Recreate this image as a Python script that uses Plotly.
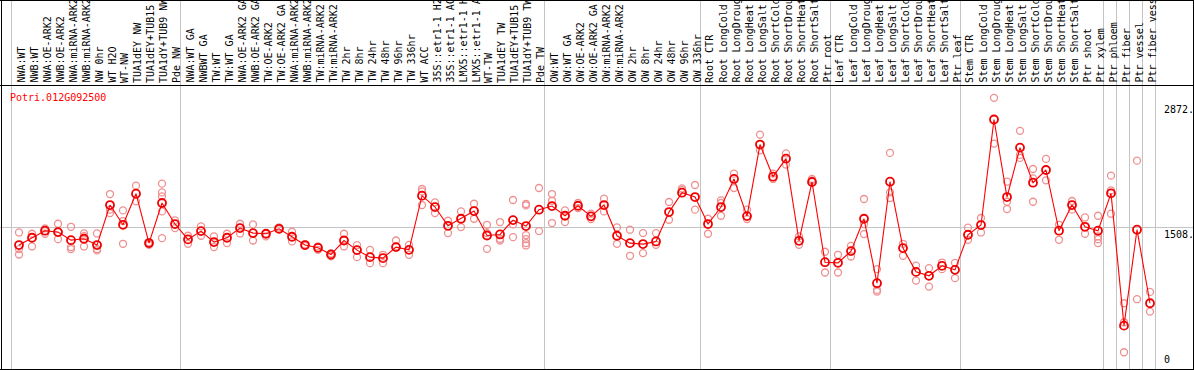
import plotly.graph_objects as go

gene_name = "Potri.012G092500"

labels = [
    "NWA:WT", "NWB:WT", "NWA:OE-ARK2", "NWB:OE-ARK2", "NWA:miRNA-ARK2", "NWB:miRNA-ARK2",
    "NW 0hr", "WT H2O", "WT-NW", "TUA1dEY NW", "TUA1dEY+TUB15 NW", "TUA1dY+TUB9 NW", "Pde NW",
    "NWA:WT GA", "NWBWT GA", "TW:WT", "TW:WT GA", "NWA:OE-ARK2 GA", "NWB:OE-ARK2 GA",
    "TW:OE-ARK2", "TW:OE-ARK2 GA", "NWA:miRNA-ARK2 GA", "NWB:miRNA-ARK2 GA", "TW:miRNA-ARK2",
    "TW:miRNA-ARK2 GA", "TW 2hr", "TW 8hr", "TW 24hr", "TW 48hr", "TW 96hr", "TW 336hr",
    "WT ACC", "35S::etr1-1 H2O", "35S::etr1-1 ACC", "LMX5::etr1-1 H2O", "LMX5::etr1-1 ACC",
    "WT-TW", "TUA1dEY TW", "TUA1dEY+TUB15 TW", "TUA1dY+TUB9 TW", "Pde TW",
    "OW:WT", "OW:WT GA", "OW:OE-ARK2", "OW:OE-ARK2 GA", "OW:miRNA-ARK2", "OW:miRNA-ARK2 GA",
    "OW 2hr", "OW 8hr", "OW 24hr", "OW 48hr", "OW 96hr", "OW 336hr",
    "Root CTR", "Root LongCold", "Root LongDrought", "Root LongHeat", "Root LongSalt",
    "Root ShortCold", "Root ShortDrought", "Root ShortHeat", "Root ShortSalt", "Ptr root",
    "Leaf CTR", "Leaf LongCold", "Leaf LongDrought", "Leaf LongHeat", "Leaf LongSalt",
    "Leaf ShortCold", "Leaf ShortDrought", "Leaf ShortHeat", "Leaf ShortSalt", "Ptr leaf",
    "Stem CTR", "Stem LongCold", "Stem LongDrought", "Stem LongHeat", "Stem LongSalt",
    "Stem ShortCold", "Stem ShortDrought", "Stem ShortHeat", "Stem ShortSalt", "Ptr shoot",
    "Ptr xylem", "Ptr phloem", "Ptr fiber", "Ptr vessel", "Ptr fiber vessel",
]

group_sizes = [13, 28, 12, 10, 10, 11, 1, 1, 1, 1]

means = [
    1318, 1398, 1475, 1460, 1372, 1387, 1318, 1756, 1540, 1880, 1340, 1778, 1548,
    1380, 1471, 1351, 1398, 1504, 1449, 1442, 1496, 1409, 1318, 1288, 1215, 1368, 1263,
    1186, 1175, 1296, 1266, 1858, 1734, 1529, 1606, 1690, 1423, 1434, 1591, 1526, 1705,
    1745, 1639, 1748, 1632, 1756, 1420, 1339, 1329, 1358, 1679, 1891, 1843,
    1548, 1734, 2041, 1635, 2417, 2066, 2263, 1365, 2008, 1131,
    1124, 1252, 1606, 901, 2011, 1285, 1025, 982, 1091, 1047,
    1431, 1537, 2691, 1843, 2384, 2000, 2139, 1475, 1756, 1518, 1475,
    1884, 437, 1486, 682,
]

replicates = [
    [1456, 1274, 1215], [1442, 1303], [1500, 1442, 1470], [1551, 1383, 1460],
    [1518, 1296, 1274], [1445, 1416, 1303], [1445, 1274, 1260], [1876, 1705, 1668],
    [1697, 1581, 1332], [1968, 1796], [1350, 1330, 1320], [1990, 1894, 1851, 1686, 1394],
    [1588, 1504],
    [1420, 1332], [1522, 1420], [1413, 1296], [1442, 1340], [1551, 1445], [1544, 1368],
    [1442, 1413], [1510, 1490], [1464, 1358], [1325, 1310], [1303, 1266], [1225, 1196],
    [1442, 1303], [1318, 1186], [1266, 1120], [1212, 1120], [1368, 1303], [1321, 1212],
    [1931, 1905, 1756], [1785, 1668], [1584, 1449], [1686, 1515], [1770, 1606],
    [1540, 1449, 1277], [1570, 1387, 1368], [1811, 1544, 1405],
    [1767, 1752, 1427, 1383, 1340, 1314], [1942, 1471],
    [1876, 1803, 1559], [1697, 1570], [1778, 1723], [1661, 1603], [1825, 1686],
    [1511, 1332], [1486, 1201], [1449, 1230], [1449, 1321], [1789, 1595], [1938, 1920],
    [1975, 1705],
    [1606, 1442], [1807, 1778, 1639], [2099, 1942], [1705, 1603], [2526, 2354],
    [2099, 2041], [2321, 2198], [1413, 1321], [2041, 2026], [1245, 1018],
    [1212, 1018], [1310, 1193], [1822, 1548, 1438], [1055, 828, 810], [2326, 1894, 1833],
    [1332, 1201], [1094, 930], [1066, 864], [1127, 1055], [1124, 956],
    [1508, 1376], [1614, 1456], [2928, 2428], [2011, 1792, 1712], [2567, 2304, 2271],
    [2150, 2048, 1792], [2260, 2026], [1540, 1376], [1800, 1705], [1620, 1442],
    [1639, 1413, 1383, 1340],
    [2077, 1916, 1661], [682, 474, 146], [2241, 726], [806, 591],
]

y_tick_values = [2872, 1508, 0]
y_tick_labels = ["2872.", "1508.", "0"]

# ---------------------------------------------------------------------------
W, H = 1194, 370
FONT = "DejaVu Sans Mono"
idx = list(range(len(labels)))

rep_x, rep_y = [], []
for i, reps in enumerate(replicates):
    for v in reps:
        rep_x.append(i)
        rep_y.append(v)

# group boundaries
bounds = []
start = 0
for g in group_sizes:
    bounds.append(start - 0.6)
    start += g
bounds.append(start - 0.6)

fig = go.Figure()
fig.add_trace(go.Scatter(
    x=rep_x, y=rep_y, mode="markers",
    marker=dict(symbol="circle-open", size=7, color="#ee9090", line=dict(width=1.3)),
    hoverinfo="skip", showlegend=False,
))
fig.add_trace(go.Scatter(
    x=idx, y=means, mode="lines+markers",
    line=dict(color="#ff0000", width=1.1),
    marker=dict(symbol="circle-open", size=8, color="#f00000", line=dict(width=1.8)),
    showlegend=False,
))

x0 = -19 / 13
x1 = (W - 19) / 13
fig.update_layout(
    width=W, height=H,
    margin=dict(l=0, r=0, t=0, b=0),
    paper_bgcolor="white", plot_bgcolor="white",
    xaxis=dict(range=[x0, x1], tickvals=bounds, showticklabels=False, ticks="",
               showgrid=True, gridcolor="#c4c4c4", gridwidth=1, zeroline=False,
               showline=False, fixedrange=True),
    yaxis=dict(range=[-48, 3998], tickvals=[y_tick_values[1]], showticklabels=False,
               ticks="", showgrid=True, gridcolor="#c4c4c4", gridwidth=1,
               zeroline=False, showline=False, fixedrange=True),
    showlegend=False,
)


def px(xp):
    return xp / W


def py(yp):
    return 1 - yp / H


shapes = [
    dict(type="line", xref="paper", yref="paper", x0=0, x1=1, y0=py(0.5), y1=py(0.5),
         line=dict(color="black", width=1)),
    dict(type="line", xref="paper", yref="paper", x0=0, x1=1, y0=py(369.5), y1=py(369.5),
         line=dict(color="black", width=1)),
    dict(type="line", xref="paper", yref="paper", x0=px(1.5), x1=px(1.5), y0=0, y1=1,
         line=dict(color="black", width=1)),
    dict(type="line", xref="paper", yref="paper", x0=px(1193.5), x1=px(1193.5), y0=0, y1=1,
         line=dict(color="black", width=1)),
    dict(type="line", xref="paper", yref="paper", x0=0, x1=1, y0=py(85.5), y1=py(85.5),
         line=dict(color="black", width=1)),
]
fig.update_layout(shapes=shapes)

annotations = []
for i, lab in enumerate(labels):
    annotations.append(dict(
        x=i, xref="x", xshift=1.5, y=py(84), yref="paper", text=lab, textangle=-90,
        xanchor="center", yanchor="bottom", showarrow=False, borderpad=0,
        font=dict(family=FONT, size=10, color="black"),
    ))
annotations.append(dict(
    x=px(9), xref="paper", y=py(97), yref="paper", text=gene_name,
    xanchor="left", yanchor="middle", showarrow=False, borderpad=0,
    font=dict(family=FONT, size=10, color="#ff0000"),
))
for v, t in zip(y_tick_values, y_tick_labels):
    annotations.append(dict(
        x=px(1163), xref="paper", y=v, yref="y", text=t,
        xanchor="left", yanchor="bottom" if v == 0 else "top", showarrow=False,
        borderpad=0, font=dict(family=FONT, size=10, color="black"),
    ))
fig.update_layout(annotations=annotations)

fig.write_html(
    "out.html",
    config={"displayModeBar": False, "staticPlot": False},
    post_script="document.body.style.margin='0';document.body.style.padding='0';"
                "document.documentElement.style.overflow='hidden';",
)
